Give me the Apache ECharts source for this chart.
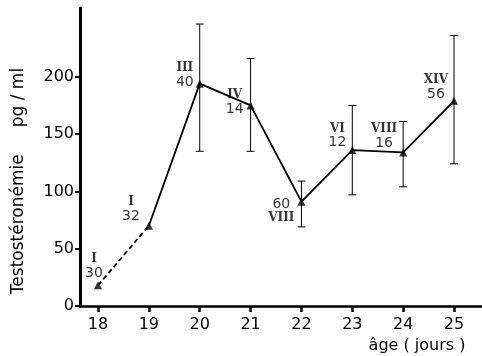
<!DOCTYPE html>
<html><head><meta charset="utf-8">
<script src="https://cdn.jsdelivr.net/npm/echarts@6/dist/echarts.min.js"></script>
<style>html,body{margin:0;padding:0;background:#fff}#c{width:482px;height:356px}</style>
</head><body><div id="c"></div>
<script>
// Data
const days = [18, 19, 20, 21, 22, 23, 24, 25];
const means = [18, 70, 194, 175, 91, 136, 134, 179];
const errHigh = [null, null, 246, 216, 109, 175, 161, 236];
const errLow = [null, null, 135, 135, 69, 97, 104, 124];
const groups = ['I', 'I', 'III', 'IV', 'VIII', 'VI', 'VIII', 'XIV'];
const counts = [30, 32, 40, 14, 60, 12, 16, 56];
const yTicks = [0, 50, 100, 150, 200];
const xTicks = [18, 19, 20, 21, 22, 23, 24, 25];
const yTitle = 'Testostéronémie     pg / ml';
const xTitle = 'âge ( jours )';

// label placement (style only)
const labelPlace = [
  {position: 'top', distance: 1, offset: [-4, 0]},
  {position: 'left', distance: 1, offset: [-4, -16]},
  {position: 'left', distance: 2, offset: [0, -8]},
  {position: 'left', distance: 3, offset: [0, -3]},
  {position: 'left', distance: 3, offset: [0, 9], below: true},
  {position: 'left', distance: 2, offset: [0, -14]},
  {position: 'left', distance: 2, offset: [0, -16]},
  {position: 'left', distance: 2, offset: [0, -13]}
];

const FONT = 'DejaVu Sans';
const chart = echarts.init(document.getElementById('c'), null, {renderer: 'canvas'});

const scatterData = days.map((d, i) => {
  const p = labelPlace[i];
  const txt = p.below ? '{n|' + counts[i] + '}\n{r|' + groups[i] + '}'
                      : '{r|' + groups[i] + '}\n{n|' + counts[i] + '}';
  return {
    value: [d, means[i]],
    label: {show: true, position: p.position, distance: p.distance, offset: p.offset, formatter: txt}
  };
});

const linePts = days.map((d, i) => [d, means[i]]);
const errData = [];
days.forEach((d, i) => { if (errHigh[i] != null) errData.push([d, errLow[i], errHigh[i]]); });

chart.setOption({
  animation: false,
  backgroundColor: '#fff',
  grid: {left: 80, right: 0, top: 8, bottom: 50, containLabel: false, outerBoundsMode: 'none'},
  xAxis: {
    type: 'value', min: 17.646, max: 25.55,
    axisLine: {show: true, onZero: false, lineStyle: {color: '#000', width: 2.5}},
    axisTick: {show: true, customValues: xTicks, length: 6, inside: false, lineStyle: {color: '#000', width: 2.5}},
    axisLabel: {customValues: xTicks, color: '#000', fontFamily: FONT, fontSize: 16, margin: 11},
    splitLine: {show: false}
  },
  yAxis: {
    type: 'value', min: 0, max: 260,
    axisLine: {show: true, lineStyle: {color: '#000', width: 3}},
    axisTick: {show: true, customValues: yTicks, length: 5, lineStyle: {color: '#000', width: 2}},
    axisLabel: {customValues: yTicks, color: '#000', fontFamily: FONT, fontSize: 16, margin: 6},
    splitLine: {show: false}
  },
  graphic: [
    {type: 'text', x: 19, y: 181, rotation: Math.PI / 2,
     style: {text: yTitle, fill: '#000', font: '17px "DejaVu Sans"', textAlign: 'center', textVerticalAlign: 'middle'}},
    {type: 'text', x: 417, y: 346,
     style: {text: xTitle, fill: '#000', font: '16px "DejaVu Sans"', textAlign: 'center', textVerticalAlign: 'middle'}}
  ],
  series: [
    {
      type: 'custom',
      data: errData,
      silent: true,
      clip: false,
      renderItem: function (params, api) {
        const x = api.value(0);
        const lo = api.coord([x, api.value(1)]);
        const hi = api.coord([x, api.value(2)]);
        const w = 4;
        const st = {stroke: '#000', lineWidth: 1};
        return {type: 'group', children: [
          {type: 'line', shape: {x1: lo[0], y1: lo[1], x2: hi[0], y2: hi[1]}, style: st},
          {type: 'line', shape: {x1: hi[0] - w, y1: hi[1], x2: hi[0] + w, y2: hi[1]}, style: st},
          {type: 'line', shape: {x1: lo[0] - w, y1: lo[1], x2: lo[0] + w, y2: lo[1]}, style: st}
        ]};
      }
    },
    {
      type: 'line', data: linePts.slice(0, 2), showSymbol: false, symbol: 'none',
      lineStyle: {color: '#000', width: 1.8, type: [5, 3]}
    },
    {
      type: 'line', data: linePts.slice(1), showSymbol: false, symbol: 'none',
      lineStyle: {color: '#000', width: 1.8}
    },
    {
      type: 'scatter', data: scatterData, symbol: 'triangle', symbolSize: 8,
      itemStyle: {color: '#000'},
      label: {
        color: '#000',
        rich: {
          r: {fontFamily: 'DejaVu Serif', fontWeight: 'bold', fontSize: 12, align: 'center', lineHeight: 13, color: '#000'},
          n: {fontFamily: FONT, fontSize: 14, align: 'center', lineHeight: 15, color: '#000'}
        }
      },
      z: 5
    }
  ]
});
</script>
</body></html>
